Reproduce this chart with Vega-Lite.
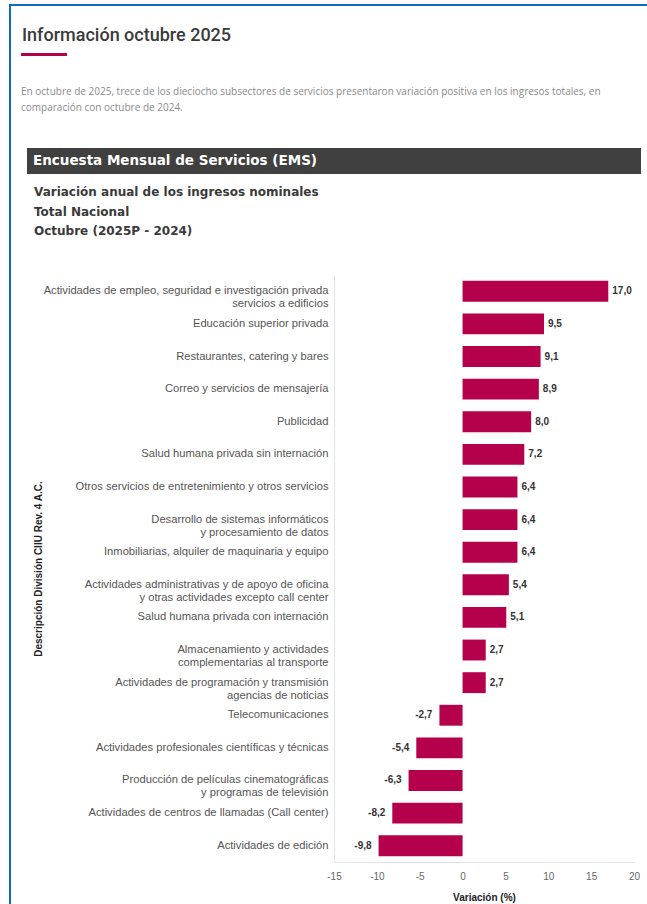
{
  "$schema": "https://vega.github.io/schema/vega-lite/v6.json",
  "padding": {"left": 9, "top": 4, "right": 0, "bottom": 0},
  "background": "#ffffff",
  "spacing": 0,
  "align": "none",
  "config": {
    "view": {"stroke": null},
    "font": "Liberation Sans",
    "locale": {"number": {"decimal": ",", "thousands": ".", "grouping": [3], "currency": ["$", ""], "minus": "-"}}
  },
  "vconcat": [
    {
      "width": 638, "height": 2,
      "data": {"values": [{}]},
      "mark": {"type": "rect", "color": "#0a6ebd"},
      "encoding": {},
      "view": {"fill": "#0a6ebd", "stroke": null}
    },
    {
      "hconcat": [
        {
          "width": 2, "height": 900,
          "data": {"values": [{}]},
          "mark": {"type": "rect", "color": "#0a6ebd"},
          "encoding": {},
          "view": {"fill": "#0a6ebd", "stroke": null}
        },
        {
          "vconcat": [
            {
              "width": 1, "height": 1,
              "data": {"values": [{}]},
              "mark": {"type": "rect", "opacity": 0},
              "encoding": {}
            },
            {
              "vconcat": [
                {
                  "vconcat": [
                    {
                      "width": 46, "height": 3,
                      "data": {"values": [{}]},
                      "mark": {"type": "rect", "color": "#b5004b"},
                      "encoding": {},
                      "view": {"fill": "#b5004b", "stroke": null},
                      "title": {"text": "Información octubre 2025", "anchor": "start", "frame": "group", "dx": 1, "offset": 8, "fontSize": 18, "font": "Roboto", "fontWeight": 500, "color": "#3a3a3a"}
                    },
                    {
                      "title": {"text": ["En octubre de 2025, trece de los dieciocho subsectores de servicios presentaron variación positiva en los ingresos totales, en", "comparación con octubre de 2024."], "anchor": "start", "frame": "group", "offset": 35, "fontSize": 10, "lineHeight": 16, "font": "Open Sans", "fontWeight": "normal", "color": "#8a8a8a"},
                      "hconcat": [
                        {
                          "width": 1, "height": 1,
                          "data": {"values": [{}]},
                          "mark": {"type": "rect", "opacity": 0},
                          "encoding": {}
                        },
                        {
                          "width": 614, "height": 26,
                          "data": {"values": [{"banner": "Encuesta Mensual de Servicios (EMS)"}]},
                          "mark": {"type": "text", "align": "left", "baseline": "middle", "dx": 6, "color": "#ffffff", "font": "DejaVu Sans", "fontSize": 13.5, "fontWeight": "bold"},
                          "encoding": {
                            "text": {"field": "banner"},
                            "x": {"datum": 0, "type": "quantitative", "scale": {"domain": [0, 1]}, "axis": null}
                          },
                          "view": {"fill": "#404040", "stroke": null}
                        }
                      ],
                      "spacing": 5,
                      "align": "none"
                    }
                  ],
                  "spacing": 31,
                  "align": "none"
                },
                {
                  "hconcat": [
                    {
                      "width": 1, "height": 1,
                      "data": {"values": [{}]},
                      "mark": {"type": "rect", "opacity": 0},
                      "encoding": {}
                    },
                    {
                      "width": 300,
                      "height": 587,
                      "data": {"values": [
                        {"sector": "Actividades de empleo, seguridad e investigación privada\nservicios a edificios", "variacion": 17.0},
                        {"sector": "Educación superior privada", "variacion": 9.5},
                        {"sector": "Restaurantes, catering y bares", "variacion": 9.1},
                        {"sector": "Correo y servicios de mensajería", "variacion": 8.9},
                        {"sector": "Publicidad", "variacion": 8.0},
                        {"sector": "Salud humana privada sin internación", "variacion": 7.2},
                        {"sector": "Otros servicios de entretenimiento y otros servicios", "variacion": 6.4},
                        {"sector": "Desarrollo de sistemas informáticos\ny procesamiento de datos", "variacion": 6.4},
                        {"sector": "Inmobiliarias, alquiler de maquinaria y equipo", "variacion": 6.4},
                        {"sector": "Actividades administrativas y de apoyo de oficina\ny otras actividades excepto call center", "variacion": 5.4},
                        {"sector": "Salud humana privada con internación", "variacion": 5.1},
                        {"sector": "Almacenamiento y actividades\ncomplementarias al transporte", "variacion": 2.7},
                        {"sector": "Actividades de programación y transmisión\nagencias de noticias", "variacion": 2.7},
                        {"sector": "Telecomunicaciones", "variacion": -2.7},
                        {"sector": "Actividades profesionales científicas y técnicas", "variacion": -5.4},
                        {"sector": "Producción de películas cinematográficas\ny programas de televisión", "variacion": -6.3},
                        {"sector": "Actividades de centros de llamadas (Call center)", "variacion": -8.2},
                        {"sector": "Actividades de edición", "variacion": -9.8}
                      ]},
                      "title": {"text": ["Variación anual de los ingresos nominales", "Total Nacional", "Octubre (2025P - 2024)"], "anchor": "start", "frame": "bounds", "offset": 37, "fontSize": 12, "lineHeight": 19.5, "font": "DejaVu Sans", "fontWeight": "bold", "color": "#3a3a3a", "dx": 1},
                      "encoding": {
                        "y": {
                          "field": "sector", "type": "nominal", "sort": null,
                          "scale": {"paddingInner": 0.36, "paddingOuter": 0.18},
                          "axis": {
                            "title": "Descripción División CIIU Rev. 4 A.C.",
                            "titleFont": "Liberation Sans", "titleFontSize": 10, "titleFontWeight": "bold", "titleColor": "#222222", "titlePadding": 2,
                            "minExtent": 289, "maxExtent": 289,
                            "labelFont": "Liberation Sans", "labelFontSize": 11.2, "labelColor": "#555555", "labelLimit": 400, "labelLineHeight": 13,
                            "labelExpr": "split(datum.value, '\\n')",
                            "ticks": false, "labelPadding": 6, "domainColor": "#e3e3e3", "grid": false
                          }
                        },
                        "x": {
                          "field": "variacion", "type": "quantitative",
                          "scale": {"domain": [-15, 20], "nice": false, "zero": false},
                          "axis": {
                            "title": "Variación (%)", "values": [-15, -10, -5, 0, 5, 10, 15, 20], "format": "d",
                            "labelFont": "Liberation Sans", "labelFontSize": 10, "labelColor": "#666666", "labelFlush": false,
                            "ticks": false, "labelPadding": 9, "domainColor": "#e3e3e3", "grid": false,
                            "titleFont": "Liberation Sans", "titleFontSize": 10, "titleFontWeight": "bold", "titleColor": "#222222", "titlePadding": 11
                          }
                        }
                      },
                      "layer": [
                        {"mark": {"type": "bar", "color": "#b5004b"}},
                        {
                          "transform": [{"filter": "datum.variacion >= 0"}],
                          "mark": {"type": "text", "align": "left", "baseline": "middle", "dx": 4, "font": "Liberation Sans", "fontSize": 10, "fontWeight": "bold", "color": "#333333"},
                          "encoding": {"text": {"field": "variacion", "type": "quantitative", "format": ".1f"}}
                        },
                        {
                          "transform": [{"filter": "datum.variacion < 0"}],
                          "mark": {"type": "text", "align": "right", "baseline": "middle", "dx": -7, "font": "Liberation Sans", "fontSize": 10, "fontWeight": "bold", "color": "#333333"},
                          "encoding": {"text": {"field": "variacion", "type": "quantitative", "format": ".1f"}}
                        }
                      ]
                    }
                  ],
                  "spacing": 11,
                  "align": "none"
                }
              ],
              "spacing": 12,
              "align": "none"
            }
          ],
          "spacing": 20,
          "align": "none"
        }
      ],
      "spacing": 10,
      "align": "none"
    }
  ]
}
